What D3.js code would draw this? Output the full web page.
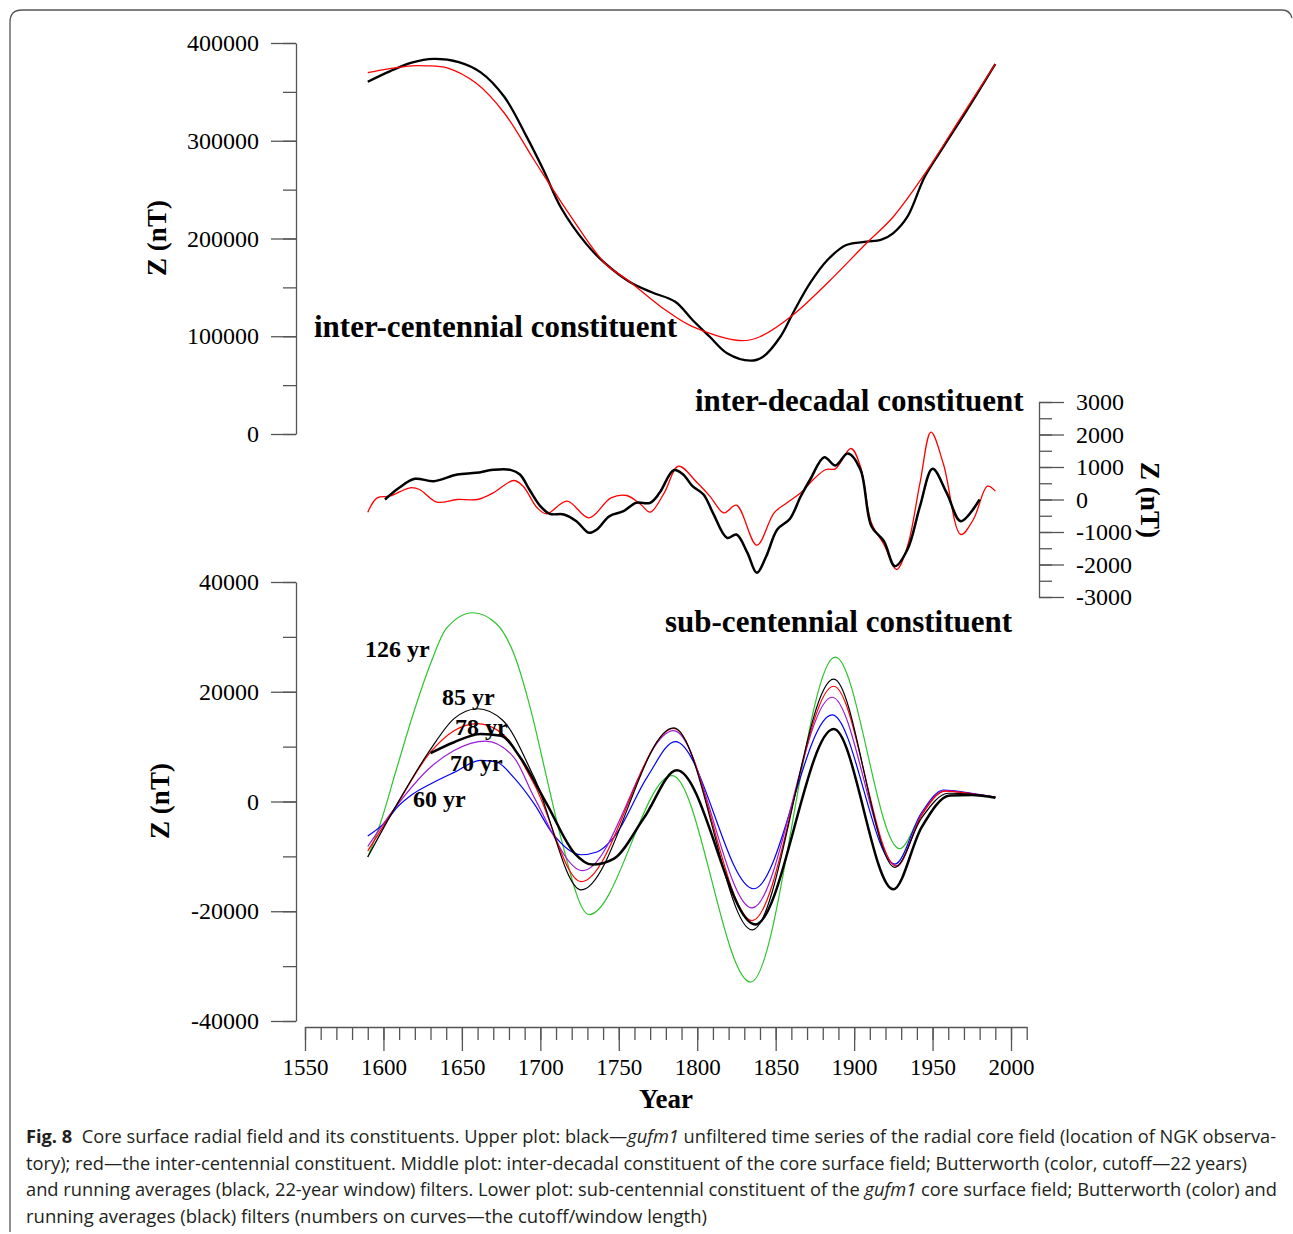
<!DOCTYPE html>
<html>
<head>
<meta charset="utf-8">
<script src="https://cdn.jsdelivr.net/npm/d3@7"></script>
<style>
  body { margin: 0; background: #fff; }
  .lbl { font-family: "Liberation Serif", "Times New Roman", serif; font-weight: bold; fill: #000; }
  .cap { font-family: "Open Sans", "Noto Sans", sans-serif; fill: #231f20; font-size: 18px; }
</style>
</head>
<body>
<div id="chart-area"></div>
<script>
// upper plot: gufm1 unfiltered (black) and inter-centennial constituent (red)
var topBlackYears = [1590, 1604, 1618, 1632, 1648, 1662, 1677, 1691, 1702, 1713, 1729, 1741, 1757, 1771, 1786, 1797, 1808, 1819, 1834, 1842, 1853, 1861, 1872, 1883, 1895, 1908, 1917, 1925, 1934, 1945, 1957, 1972, 1990];
var topBlackValues = [360400, 371000, 380000, 383800, 380500, 370000, 345000, 305000, 270000, 232000, 195000, 175000, 155500, 145000, 135300, 116600, 99500, 82600, 75000, 79100, 99500, 123600, 154500, 178000, 193300, 196700, 198500, 205600, 222300, 263200, 294000, 331500, 378500];
var topRedYears = [1590, 1604, 1618, 1627, 1641, 1659, 1677, 1696, 1718, 1741, 1757, 1777, 1797, 1828, 1840, 1861, 1883, 1908, 1925, 1946, 1967, 1990];
var topRedValues = [369600, 373800, 376700, 376700, 374400, 359000, 328400, 280300, 226000, 175000, 155800, 130000, 109800, 95500, 99500, 121700, 154500, 195400, 222300, 268300, 321200, 378500];

// middle plot: inter-decadal constituent
var midBlackYears = [1601, 1610, 1620, 1632, 1647, 1659, 1670, 1681, 1687, 1693, 1700, 1706, 1715, 1723, 1731, 1736, 1744, 1753, 1761, 1770, 1776, 1785, 1791, 1797, 1804, 1810, 1819, 1825, 1832, 1838, 1844, 1851, 1859, 1866, 1872, 1881, 1888, 1896, 1904, 1911, 1919, 1926, 1934, 1942, 1950, 1959, 1968, 1980];
var midBlackValues = [0, 360, 636, 564, 770, 820, 912, 912, 770, 308, -205, -441, -461, -667, -1025, -923, -513, -359, -103, -103, 205, 902, 770, 410, 154, -410, -1180, -1077, -1641, -2256, -1744, -923, -600, 100, 615, 1302, 1046, 1415, 923, -821, -1282, -2051, -1538, -205, 944, 205, -667, 0];
var midRedYears = [1590, 1596, 1604, 1617, 1623, 1634, 1647, 1660, 1670, 1683, 1689, 1698, 1704, 1717, 1731, 1745, 1755, 1764, 1770, 1779, 1788, 1800, 1808, 1817, 1825, 1838, 1849, 1857, 1866, 1874, 1882, 1888, 1898, 1904, 1911, 1919, 1927, 1934, 1942, 1949, 1957, 1968, 1976, 1985, 1990];
var midRedValues = [-390, 51, 103, 360, 308, -82, 0, 0, 205, 585, 410, -256, -441, -51, -564, 51, 123, -154, -390, 205, 1025, 513, 103, -410, -175, -1405, -410, -110, 205, 615, 923, 944, 1569, 1025, -718, -1385, -2154, -1436, 513, 2072, 1077, -1077, -615, 410, 256];

// lower plot: sub-centennial constituent
var green126Years = [1590, 1598, 1608, 1619, 1630, 1640, 1657, 1672, 1683, 1694, 1704, 1713, 1731, 1784, 1834, 1888, 1929, 1943, 1958, 1972, 1990];
var green126Values = [-10100, -4000, 5600, 16000, 25100, 31500, 34400, 32400, 27000, 16600, 4400, -6500, -20600, 4700, -32900, 26300, -8600, -2200, 2000, 1500, 800];
var black85Years = [1590, 1607, 1630, 1645, 1660, 1676, 1696, 1726, 1785, 1835, 1887, 1926, 1943, 1960, 1975, 1990];
var black85Values = [-10100, -1300, 9500, 15100, 16900, 14800, 4400, -16100, 13400, -23400, 22300, -12000, -3000, 1500, 1300, 700];
var red78Years = [1590, 1607, 1630, 1645, 1660, 1676, 1696, 1726, 1785, 1835, 1887, 1927, 1943, 1958, 1975, 1990];
var red78Values = [-9000, -1300, 9000, 12900, 14200, 12300, 3200, -14600, 13300, -21700, 21000, -11800, -2500, 1900, 1400, 800];
var purple70Years = [1590, 1607, 1630, 1645, 1665, 1683, 1696, 1727, 1785, 1835, 1886, 1927, 1943, 1958, 1975, 1990];
var purple70Values = [-8200, -1300, 6250, 9300, 11000, 8100, 800, -12600, 12900, -19400, 19000, -11700, -2300, 2000, 1400, 800];
var blue60Years = [1590, 1602, 1608, 1619, 1630, 1645, 1662, 1672, 1683, 1696, 1708, 1726, 1736, 1747, 1768, 1786, 1836, 1886, 1926, 1943, 1957, 1975, 1990];
var blue60Values = [-6300, -3500, -1300, 1400, 3200, 5300, 7500, 7200, 4400, -400, -5900, -9700, -9200, -6500, 4400, 10900, -15900, 15800, -11400, -2000, 2100, 1500, 800];
var runAvgYears = [1630, 1645, 1662, 1675, 1687, 1704, 1722, 1733, 1747, 1766, 1787, 1837, 1887, 1925, 1943, 1961, 1975, 1990];
var runAvgValues = [8800, 10800, 12300, 12000, 8100, -400, -9500, -11500, -10400, -3000, 5700, -22400, 13200, -16000, -4700, 1100, 1200, 700];

var curveLabels = ["126 yr", "85 yr", "78 yr", "70 yr", "60 yr"];
var yearTicks = [1550, 1600, 1650, 1700, 1750, 1800, 1850, 1900, 1950, 2000];

var width = 1293, height = 1234;
var serif = "'Liberation Serif', 'Times New Roman', serif";

var svg = d3.select("#chart-area")
  .append("svg")
  .attr("width", width)
  .attr("height", height);

// frame
svg.append("path")
  .attr("d", "M10,1232 L10,22 Q10,10 22,10 L1282,10 Q1290,10 1292,18")
  .attr("fill", "none")
  .attr("stroke", "#555")
  .attr("stroke-width", 1.3);

// scales
var x = d3.scaleLinear().domain([1550, 2010]).range([305, 1026.7]);
var yTop = d3.scaleLinear().domain([0, 400000]).range([434, 43]);
var yMid = d3.scaleLinear().domain([-3000, 3000]).range([597, 402]);
var yLow = d3.scaleLinear().domain([-40000, 40000]).range([1021, 582]);

var fmt = function(d) { return String(d); };

function styleAxis(g, size) {
  g.attr("font-family", serif).attr("font-size", size);
  g.selectAll(".domain").attr("stroke", "#555").attr("stroke-width", 1.3);
  g.selectAll(".tick line").attr("stroke", "#555").attr("stroke-width", 1.3);
  g.selectAll(".tick text").attr("font-family", serif).attr("font-size", size).attr("fill", "#000");
}

// y axis upper
var gTopMinor = svg.append("g").attr("transform", "translate(296,0)")
  .call(d3.axisLeft(yTop).tickValues(d3.range(0, 400001, 50000)).tickSize(13).tickSizeOuter(0).tickFormat(""));
styleAxis(gTopMinor, 24);
var gTop = svg.append("g").attr("transform", "translate(296,0)")
  .call(d3.axisLeft(yTop).tickValues([0, 100000, 200000, 300000, 400000]).tickSize(25).tickSizeOuter(0).tickPadding(12).tickFormat(fmt));
styleAxis(gTop, 24);
gTop.select(".domain").remove();

// y axis middle (right side)
var gMidMinor = svg.append("g").attr("transform", "translate(1039,0)")
  .call(d3.axisRight(yMid).tickValues(d3.range(-3000, 3001, 500)).tickSize(13).tickSizeOuter(0).tickFormat(""));
styleAxis(gMidMinor, 24);
var gMid = svg.append("g").attr("transform", "translate(1039,0)")
  .call(d3.axisRight(yMid).tickValues(d3.range(-3000, 3001, 1000)).tickSize(25).tickSizeOuter(0).tickPadding(12).tickFormat(fmt));
styleAxis(gMid, 24);
gMid.select(".domain").remove();

// y axis lower
var gLowMinor = svg.append("g").attr("transform", "translate(296,0)")
  .call(d3.axisLeft(yLow).tickValues(d3.range(-40000, 40001, 10000)).tickSize(13).tickSizeOuter(0).tickFormat(""));
styleAxis(gLowMinor, 24);
var gLow = svg.append("g").attr("transform", "translate(296,0)")
  .call(d3.axisLeft(yLow).tickValues(d3.range(-40000, 40001, 20000)).tickSize(25).tickSizeOuter(0).tickPadding(12).tickFormat(fmt));
styleAxis(gLow, 24);
gLow.select(".domain").remove();

// x axis
var gXMinor = svg.append("g").attr("transform", "translate(0,1027)")
  .call(d3.axisBottom(x).tickValues(d3.range(1550, 2011, 10)).tickSize(13).tickSizeOuter(0).tickFormat(""));
styleAxis(gXMinor, 23);
var gX = svg.append("g").attr("transform", "translate(0,1027)")
  .call(d3.axisBottom(x).tickValues(yearTicks).tickSize(24).tickSizeOuter(0).tickPadding(8).tickFormat(fmt));
styleAxis(gX, 23);
gX.select(".domain").remove();

// lines
function drawLine(years, values, yScale, color, w, curve) {
  var pts = years.map(function(d, i) { return [d, values[i]]; });
  var line = d3.line()
    .x(function(d) { return x(d[0]); })
    .y(function(d) { return yScale(d[1]); })
    .curve(curve || d3.curveMonotoneX);
  svg.append("path")
    .datum(pts)
    .attr("d", line)
    .attr("fill", "none")
    .attr("stroke", color)
    .attr("stroke-width", w)
    .attr("stroke-linejoin", "round");
}

var smooth = d3.curveCatmullRom.alpha(0.5);
drawLine(topBlackYears, topBlackValues, yTop, "#000", 2.3, smooth);
drawLine(topRedYears, topRedValues, yTop, "#ff0000", 1.3, smooth);

drawLine(midRedYears, midRedValues, yMid, "#ff0000", 1.3, smooth);
drawLine(midBlackYears, midBlackValues, yMid, "#000", 2.5, smooth);

drawLine(green126Years, green126Values, yLow, "#2ec42e", 1.2);
drawLine(blue60Years, blue60Values, yLow, "#0000ff", 1.2);
drawLine(purple70Years, purple70Values, yLow, "#9a1ad6", 1.2);
drawLine(red78Years, red78Values, yLow, "#ff0000", 1.2);
drawLine(black85Years, black85Values, yLow, "#000", 1.2);
drawLine(runAvgYears, runAvgValues, yLow, "#000", 2.5);

// text labels
function label(txt, tx, ty, size) {
  return svg.append("text").attr("class", "lbl")
    .attr("x", tx).attr("y", ty)
    .attr("font-size", size)
    .text(txt);
}
label("inter-centennial constituent", 314, 337, 31);
label("inter-decadal constituent", 695, 411, 31);
label("sub-centennial constituent", 665, 632, 31);

var curveLabelPos = [[365, 657], [442, 705], [455, 735], [450, 771], [413, 807]];
curveLabels.forEach(function(t, i) {
  label(t, curveLabelPos[i][0], curveLabelPos[i][1], 24);
});

label("Year", 666, 1108, 27).attr("text-anchor", "middle");

label("Z (nT)", 0, 0, 27)
  .attr("text-anchor", "middle").attr("dominant-baseline", "central")
  .attr("transform", "translate(157,238) rotate(-90)");
label("Z (nT)", 0, 0, 27)
  .attr("text-anchor", "middle").attr("dominant-baseline", "central")
  .attr("transform", "translate(160,801) rotate(-90)");
label("Z (nT)", 0, 0, 27)
  .attr("text-anchor", "middle").attr("dominant-baseline", "central")
  .attr("transform", "translate(1150,500) rotate(90)");

// caption
var captionLines = [
  [["Fig. 8", "b"], ["  Core surface radial field and its constituents. Upper plot: black\u2014", ""], ["gufm1", "i"], [" unfiltered time series of the radial core field (location of NGK observa-", ""]],
  [["tory); red\u2014the inter-centennial constituent. Middle plot: inter-decadal constituent of the core surface field; Butterworth (color, cutoff\u201422 years)", ""]],
  [["and running averages (black, 22-year window) filters. Lower plot: sub-centennial constituent of the ", ""], ["gufm1", "i"], [" core surface field; Butterworth (color) and", ""]],
  [["running averages (black) filters (numbers on curves\u2014the cutoff/window length)", ""]]
];
var captionRight = [1276, 1247, 1277, 707];
var captionBase = [1143, 1170, 1196, 1223];

captionLines.forEach(function(parts, i) {
  var t = svg.append("text").attr("class", "cap")
    .attr("x", 26).attr("y", captionBase[i])
    .attr("textLength", captionRight[i] - 26)
    .attr("lengthAdjust", "spacingAndGlyphs")
    .attr("xml:space", "preserve");
  parts.forEach(function(p) {
    t.append("tspan")
      .attr("font-weight", p[1] === "b" ? "bold" : null)
      .attr("font-style", p[1] === "i" ? "italic" : null)
      .text(p[0]);
  });
});
</script>
</body>
</html>
